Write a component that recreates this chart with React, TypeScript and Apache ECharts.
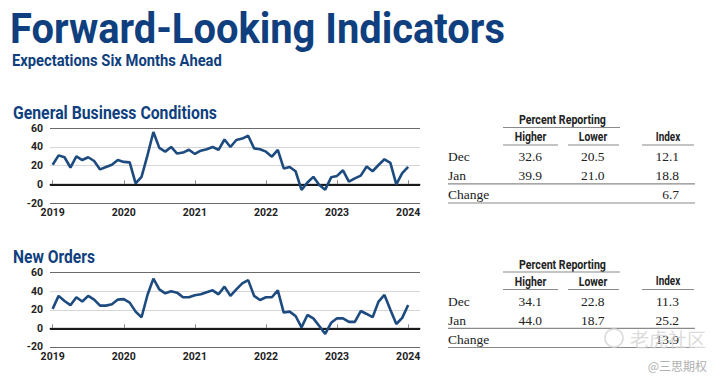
import React, { useEffect, useRef } from "react";
import * as echarts from "echarts";

// ---------- DATA ----------
const yearLabels = ["2019", "2020", "2021", "2022", "2023", "2024"];
const yearTickMonths = [0, 12, 24, 36, 48, 60];

// General Business Conditions, monthly Jan 2019 .. Jan 2024
const gbcValues = [
  21, 31, 29, 18, 30, 26, 29, 25, 16, 18.5, 21, 26,
  24, 23.5, 1, 8, 31, 56, 39, 35, 40, 33, 34, 37,
  32.5, 36, 37.5, 40, 37, 48, 40, 47.5, 49, 52, 38.5, 37.5,
  35, 29.6, 36.8, 17, 18.6, 14, -6, 2, 8, -0.7, -5.7, 7.5,
  9, 15, 3, 6.4, 9.3, 19, 14, 20.7, 26.8, 23, 0, 12.1,
  18.8,
];

// New Orders, monthly Jan 2019 .. Jan 2024
const noValues = [
  21, 35, 29.5, 25, 33.5, 29, 35, 31, 24.5, 24.5, 26, 31,
  31.5, 27.7, 18, 12, 36, 53.6, 42, 37.8, 40, 38.5, 33.5, 33.5,
  35.6, 36.7, 39, 41, 36.7, 45, 35, 42, 48.5, 52, 35, 30.6,
  33.5, 33.5, 41, 17, 18, 13.3, 1, 14.4, 10.8, 2.5, -6, 6,
  10.8, 10.8, 7, 7, 18.7, 15.5, 12, 28.8, 36, 20, 4.7, 11.3,
  25.2,
];

const tableColumns = ["Higher", "Lower", "Index"];
const rowLabels = ["Dec", "Jan", "Change"];
const gbcDec = [32.6, 20.5, 12.1];
const gbcJan = [39.9, 21.0, 18.8];
const gbcChange = 6.7;
const noDec = [34.1, 22.8, 11.3];
const noJan = [44.0, 18.7, 25.2];
const noChange = 13.9;

// ---------- STYLE ----------
const NAVY = "#0f3f7e";
const LINE = "#1d4b7f";
const SANS = "Roboto, 'Liberation Sans', sans-serif";
const SERIF = "'Liberation Serif', 'DejaVu Serif', serif";

let measureCtx: CanvasRenderingContext2D | null = null;
function measure(t: string, size: number, weight: string, family: string) {
  if (!measureCtx) measureCtx = document.createElement("canvas").getContext("2d");
  if (!measureCtx) return 0;
  measureCtx.font = `${weight} ${size}px ${family}`;
  return measureCtx.measureText(t).width;
}

function text(x: number, y: number, t: string, o: any = {}) {
  const fontSize = o.fontSize ?? 13;
  const fontFamily = o.fontFamily ?? SANS;
  const fontWeight = o.fontWeight ?? "normal";
  let scaleX = 1;
  if (o.width) {
    const w = measure(t, fontSize, fontWeight, fontFamily);
    if (w > 0) scaleX = o.width / w;
  }
  return {
    type: "text",
    x,
    y,
    scaleX,
    silent: true,
    style: {
      text: t,
      fill: o.fill ?? "#222",
      fontSize,
      fontFamily,
      fontWeight,
      align: o.align ?? "left",
      verticalAlign: "middle",
      opacity: o.opacity ?? 1,
    },
  };
}

function hline(x1: number, x2: number, y: number, color = "#8a8a8a", w = 1.2) {
  return {
    type: "line",
    silent: true,
    shape: { x1, y1: y, x2, y2: y },
    style: { stroke: color, lineWidth: w },
  };
}

function table(dy: number, dec: number[], jan: number[], change: number) {
  const colCenter = [530.5, 593, 668];
  const colRight = [542, 604.5, 679];
  const headWidth = [31.5, 28.5, 24.5];
  const els: any[] = [];
  els.push(text(562.5, 120 + dy, "Percent Reporting", { fontSize: 12.5, fontWeight: "bold", align: "center", width: 87 }));
  els.push(hline(503, 620, 127.5 + dy));
  tableColumns.forEach((c, i) => {
    els.push(text(colCenter[i], 136.7 + dy, c, { fontSize: 12.5, fontWeight: "bold", align: "center", width: headWidth[i] }));
  });
  els.push(hline(503, 558, 145 + dy));
  els.push(hline(568, 619, 145 + dy));
  els.push(hline(642, 694, 145 + dy));
  const rows = [dec, jan];
  rows.forEach((r, ri) => {
    const y = (ri === 0 ? 156.7 : 175.5) + dy;
    els.push(text(448, y, rowLabels[ri], { fontFamily: SERIF, fontSize: 13.5 }));
    r.forEach((v, ci) => {
      els.push(text(colRight[ci], y, v.toFixed(1), { fontFamily: SERIF, fontSize: 13.5, align: "right" }));
    });
  });
  els.push(hline(448, 695, 183.8 + dy));
  els.push(text(448, 194.5 + dy, rowLabels[2], { fontFamily: SERIF, fontSize: 13.5 }));
  els.push(text(colRight[2], 194.5 + dy, change.toFixed(1), { fontFamily: SERIF, fontSize: 13.5, align: "right" }));
  els.push(hline(448, 695, 203 + dy));
  return els;
}

function makeGrid(top: number, height: number) {
  return { left: 50, width: 370, top, height, containLabel: false };
}

function makeX(gridIndex: number) {
  return {
    type: "value",
    gridIndex,
    min: -0.45,
    max: 62,
    axisLine: { show: true, lineStyle: { color: "#6a6a6a", width: 1.3 } },
    axisTick: {
      show: true,
      inside: true,
      length: 4,
      customValues: yearTickMonths,
      lineStyle: { color: "#888", width: 1 },
    },
    axisLabel: {
      show: true,
      customValues: yearTickMonths,
      formatter: (v: number) => yearLabels[yearTickMonths.indexOf(Math.round(v))] ?? "",
      color: "#222",
      fontFamily: SANS,
      fontWeight: "bold",
      fontSize: 10.5,
      margin: 4,
    },
    splitLine: { show: false },
  };
}

function makeY(gridIndex: number) {
  return {
    type: "value",
    gridIndex,
    min: -20,
    max: 60,
    interval: 20,
    axisLine: { show: false },
    axisTick: { show: false },
    axisLabel: {
      color: "#222",
      fontFamily: SANS,
      fontWeight: "bold",
      fontSize: 10.5,
      margin: 7,
    },
    splitLine: {
      show: true,
      lineStyle: { color: ["#6a6a6a", "#1a1a1a", "#d6d6d6", "#d6d6d6", "#6a6a6a"], width: 1.2 },
    },
  };
}

function makeSeries(idx: number, values: number[]) {
  return {
    type: "line",
    xAxisIndex: idx,
    yAxisIndex: idx,
    data: values.map((v, i) => [i, v]),
    symbol: "none",
    smooth: false,
    lineStyle: { color: LINE, width: 2.6 },
    z: 3,
    markLine: {
      silent: true,
      symbol: "none",
      z: 2,
      label: { show: false },
      lineStyle: { color: "#1a1a1a", width: 2, type: "solid" },
      data: [{ yAxis: 0 }],
    },
  };
}

export default function App() {
  const ref = useRef<HTMLDivElement>(null);
  useEffect(() => {
    if (!ref.current) return;
    const chart = echarts.init(ref.current, undefined, { renderer: "svg" });
    const graphics: any[] = [
      text(10, 28.5, "Forward-Looking Indicators", { fontSize: 43, fontWeight: "bold", fill: NAVY, width: 495 }),
      text(12, 60.5, "Expectations Six Months Ahead", { fontSize: 17, fontWeight: "bold", fill: NAVY, width: 210 }),
      text(13, 113, "General Business Conditions", { fontSize: 17.5, fontWeight: "bold", fill: NAVY, width: 204 }),
      text(13, 257.5, "New Orders", { fontSize: 17.5, fontWeight: "bold", fill: NAVY, width: 82 }),
      ...table(0, gbcDec, gbcJan, gbcChange),
      ...table(144.5, noDec, noJan, noChange),
      {
        type: "circle",
        silent: true,
        shape: { cx: 614, cy: 338, r: 9 },
        style: { fill: "none", stroke: "#d8d8d8", lineWidth: 1.5 },
      },
      text(668, 338, "老虎社区", { fontSize: 19, fill: "#d2d2d2", fontFamily: "'Noto Sans CJK SC', sans-serif", align: "center", opacity: 0.8 }),
      text(707, 365, "@三思期权", { fontSize: 12, fill: "#b0b0b0", fontFamily: "'Noto Sans CJK SC', sans-serif", align: "right" }),
    ];
    chart.setOption({
      animation: false,
      backgroundColor: "#ffffff",
      grid: [makeGrid(128.3, 74.7), makeGrid(272.7, 74.2)],
      xAxis: [makeX(0), makeX(1)],
      yAxis: [makeY(0), makeY(1)],
      series: [makeSeries(0, gbcValues), makeSeries(1, noValues)],
      graphic: graphics,
    });
    return () => chart.dispose();
  }, []);
  return (
    <div
      ref={ref}
      style={{ position: "fixed", left: 0, top: 0, width: 720, height: 380, background: "#fff" }}
    />
  );
}
